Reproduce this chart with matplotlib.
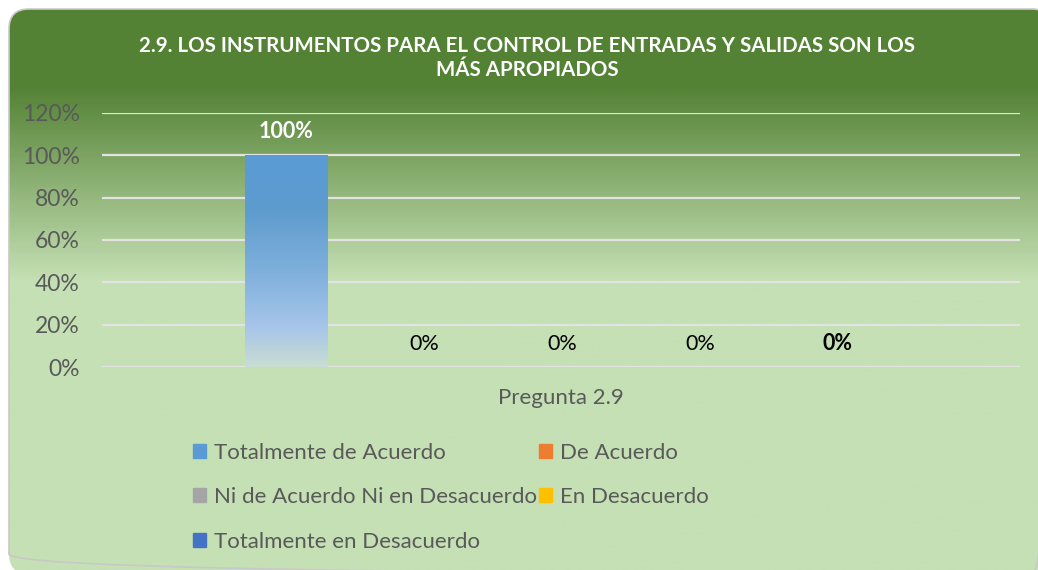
import numpy as np
import matplotlib
matplotlib.use("Agg")
import matplotlib.pyplot as plt
from matplotlib.patches import FancyBboxPatch, Rectangle
from matplotlib.colors import LinearSegmentedColormap
from matplotlib.ticker import FuncFormatter

plt.rcParams["font.family"] = ["Lato", "DejaVu Sans"]

title = "2.9. LOS INSTRUMENTOS PARA EL CONTROL DE ENTRADAS Y SALIDAS SON LOS\nMÁS APROPIADOS"
category = "Pregunta 2.9"
series = ["Totalmente de Acuerdo", "De Acuerdo", "Ni de Acuerdo Ni en Desacuerdo",
          "En Desacuerdo", "Totalmente en Desacuerdo"]
values = [1.00, 0.00, 0.00, 0.00, 0.00]
colors = ["#5B9BD5", "#ED7D31", "#A5A5A5", "#FFC000", "#4472C4"]

W, H = 1038, 570
fig = plt.figure(figsize=(W / 100, H / 100), dpi=100)
fig.patch.set_facecolor("white")

# background panel with green gradient (cut off at the right and bottom)
bg = fig.add_axes([0, 0, 1, 1])
bg.set_xlim(0, W)
bg.set_ylim(H, 0)
bg.axis("off")
panel = FancyBboxPatch((9, 9), 1043, 565, boxstyle="round,pad=0,rounding_size=20",
                       facecolor="none", edgecolor="#C8C8C8", lw=1.2, zorder=3)
bg.add_patch(panel)
green = LinearSegmentedColormap.from_list(
    "g", [(0, "#548235"), (0.135, "#548235"), (0.48, "#C5E0B4"), (1, "#C5E0B4")])
grad = np.linspace(0, 1, 300).reshape(-1, 1)
im = bg.imshow(grad, cmap=green, aspect="auto", extent=[9, 1052, 574, 9], zorder=1)
im.set_clip_path(panel)

fig.text(527 / W, 1 - 58 / H, title, ha="center", va="center", color="white",
         fontsize=14.8, fontweight="bold", linespacing=1.25)

# plot area
ax = fig.add_axes([102 / W, 1 - 367 / H, 918 / W, 254 / H])
ax.patch.set_alpha(0)
x = np.arange(len(series))
bw = 0.595
bars = ax.bar(x, values, width=bw, color=colors, zorder=2)
ax.set_yticks(np.arange(0, 1.21, 0.2))
ax.yaxis.set_major_formatter(FuncFormatter(lambda v, p: f"{v * 100:.0f}%"))
ax.tick_params(axis="y", length=0, pad=16, labelsize=16.5, labelcolor="#595959")
ax.set_xticks([])
for s in ax.spines.values():
    s.set_visible(False)
ax.grid(axis="y", color="#E3E3E3", lw=1.6, zorder=1)

# gradient fill on bars
blue = LinearSegmentedColormap.from_list(
    "b", [(0, "#C8DDD2"), (0.18, "#A8C6EA"), (0.45, "#7FB0DC"), (0.75, "#5D9BCE"), (1, "#5B9BD5")])
for b, v in zip(bars, values):
    if v > 0:
        bgrad = np.linspace(1, 0, 200).reshape(-1, 1)
        bi = ax.imshow(bgrad, cmap=blue, aspect="auto", zorder=3,
                       extent=[b.get_x(), b.get_x() + b.get_width(), 0, v])
        bi.set_clip_path(b)
ax.set_xlim(-1.333, 5.32)
ax.set_ylim(0, 1.2)

labels = ax.bar_label(bars, labels=[f"{v * 100:.0f}%" for v in values], padding=9.5, fontsize=15.5)
for i, t in enumerate(labels):
    if values[i] > 0:
        t.set_color("white")
        t.set_fontweight("bold")
    else:
        t.set_color("black")
labels[-1].set_fontweight("bold")

fig.text(561 / W, 1 - 398 / H, category, ha="center", va="center", color="#595959", fontsize=16)

# legend, filled column by column
handles = [Rectangle((0, 0), 1, 1, color=c) for c in colors]
order = [0, 2, 4, 1, 3]
leg = fig.legend([handles[i] for i in order], [series[i] for i in order], ncol=2,
                 loc="upper left", bbox_to_anchor=(186 / W, 1 - 436 / H), frameon=False,
                 fontsize=16, handlelength=0.6, handleheight=0.6, handletextpad=0.35,
                 columnspacing=0.1, labelspacing=1.1, labelcolor="#595959",
                 borderaxespad=0, borderpad=0.3)

fig.savefig("out.png", dpi=100)
